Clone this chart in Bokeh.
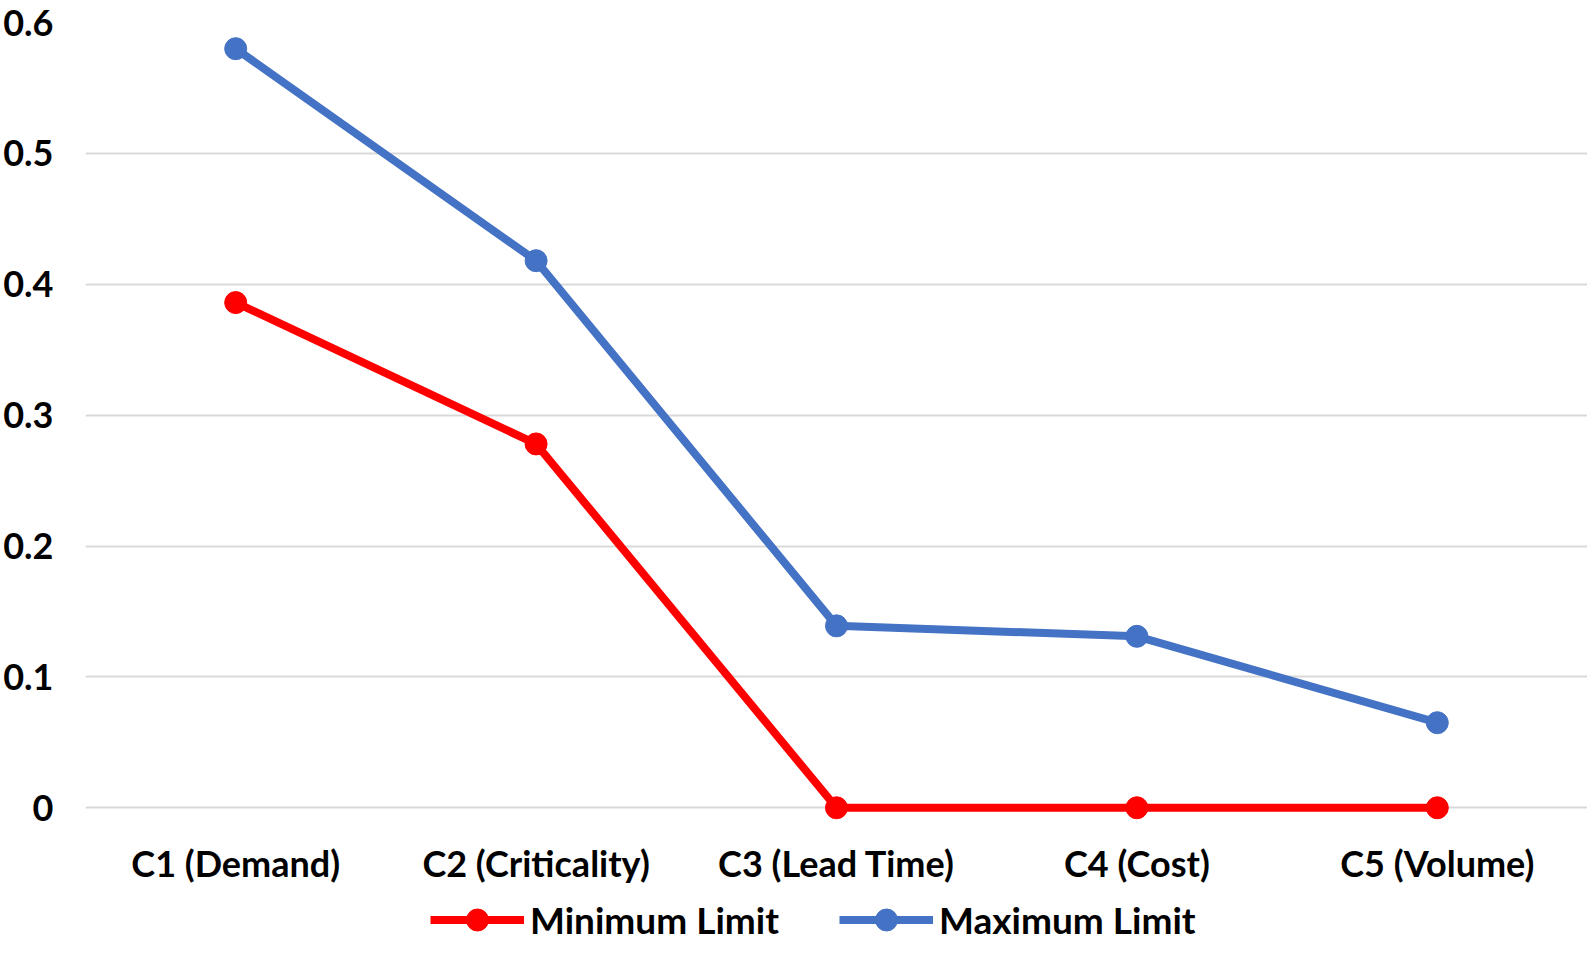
from bokeh.plotting import figure
from bokeh.layouts import column
from bokeh.models import FactorRange, Range1d, FixedTicker, Legend, LegendItem
from bokeh.embed import file_html
from bokeh.resources import INLINE

categories = ["C1 (Demand)", "C2 (Criticality)", "C3 (Lead Time)", "C4 (Cost)", "C5 (Volume)"]
min_limit = [0.386, 0.278, 0.0, 0.0, 0.0]
max_limit = [0.580, 0.418, 0.139, 0.131, 0.065]
y_ticks = [0, 0.1, 0.2, 0.3, 0.4, 0.5, 0.6]
series_names = ["Minimum Limit", "Maximum Limit"]

RED = "#FF0000"
BLUE = "#4472C4"
FONT = "Lato"
AXIS_FSIZE = "36px"
LEG_FSIZE = "37px"

p = figure(frame_width=1502, frame_height=818, output_backend="svg", toolbar_location=None,
           x_range=FactorRange(*categories, range_padding=0),
           y_range=Range1d(-0.025, 0.6),
           min_border_left=84, min_border_right=0, min_border_top=22, min_border_bottom=0)
p.outline_line_color = None
p.background_fill_color = "white"
p.border_fill_color = "white"

p.xgrid.grid_line_color = None
p.ygrid.grid_line_color = "#d9d9d9"
p.ygrid.grid_line_width = 2
p.yaxis.ticker = FixedTicker(ticks=y_ticks)
p.yaxis.major_label_overrides = {0: "0"}

for ax in (p.xaxis[0], p.yaxis[0]):
    ax.axis_line_color = None
    ax.major_tick_line_color = None
    ax.minor_tick_line_color = None
    ax.major_tick_out = 0
    ax.major_tick_in = 0
    ax.major_label_text_font = FONT
    ax.major_label_text_font_style = "bold"
    ax.major_label_text_font_size = AXIS_FSIZE
    ax.major_label_text_color = "black"
p.yaxis.major_label_standoff = 32
p.xaxis.major_label_standoff = 0

p.line(categories, min_limit, line_color=RED, line_width=8)
p.scatter(categories, min_limit, size=22, fill_color=RED, line_color=RED)
p.line(categories, max_limit, line_color=BLUE, line_width=8)
p.scatter(categories, max_limit, size=22, fill_color=BLUE, line_color=BLUE)

# legend strip below the chart (series drawn outside its visible range,
# so only their legend swatches show)
lg = figure(width=1586, height=62, output_backend="svg", toolbar_location=None,
            x_range=FactorRange(*categories), y_range=Range1d(10, 11),
            x_axis_location=None, y_axis_location=None, min_border=0)
lg.grid.visible = False
lg.outline_line_color = None
lr1 = lg.line(categories, min_limit, line_color=RED, line_width=8)
ls1 = lg.scatter(categories, min_limit, size=22, fill_color=RED, line_color=RED)
lr2 = lg.line(categories, max_limit, line_color=BLUE, line_width=8)
ls2 = lg.scatter(categories, max_limit, size=22, fill_color=BLUE, line_color=BLUE)

legend = Legend(items=[LegendItem(label=series_names[0], renderers=[lr1, ls1]),
                       LegendItem(label=series_names[1], renderers=[lr2, ls2])],
                location=(345, 2), orientation="horizontal",
                glyph_width=94, glyph_height=55, label_standoff=6, spacing=60,
                padding=0, margin=0, border_line_color=None, background_fill_alpha=0,
                label_text_font=FONT, label_text_font_style="bold",
                label_text_font_size=LEG_FSIZE, label_text_color="black")
lg.add_layout(legend, "center")

open("out.html", "w").write(file_html(column(p, lg, spacing=0), INLINE))
